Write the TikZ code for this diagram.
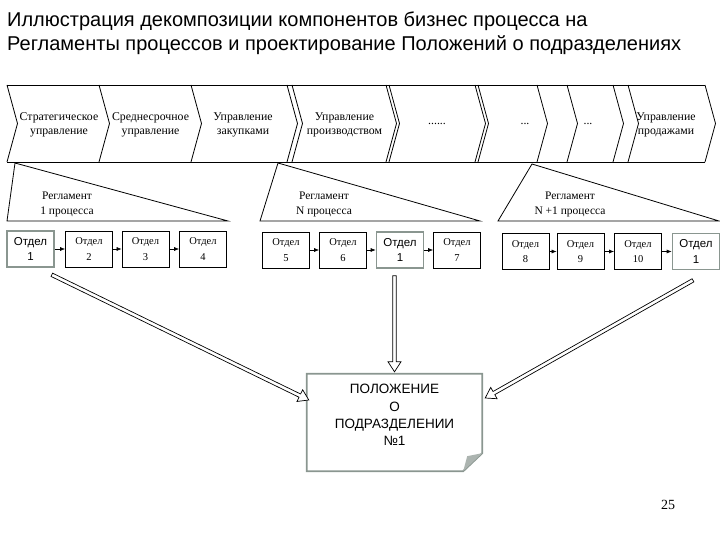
\documentclass[tikz,border=0pt]{standalone}
\usepackage{fontspec}
\setmainfont{Liberation Serif}
\setsansfont{Liberation Sans}
\usetikzlibrary{calc,arrows.meta}
\definecolor{gborder}{RGB}{138,150,144}
\definecolor{gfold}{RGB}{172,180,176}
\tikzset{
  edgeline/.style={line width=0.8pt},
  dept/.style={draw, line width=0.7pt, minimum width=47pt, minimum height=36pt, inner sep=0pt, align=center, font=\fontsize{10.5}{15.5}\selectfont},
  deptg/.style={dept, draw=gborder, line width=1.6pt, font=\sffamily\fontsize{11.5}{15.5}\selectfont},
  sarrow/.style={-{Latex[length=5pt,width=4pt]}, line width=0.6pt},
  bigarrow/.style={draw, line width=0.7pt, fill=white},
  chevtext/.style={align=center, inner sep=0pt, font=\fontsize{11.8}{14.5}\selectfont},
  regtext/.style={align=center, inner sep=0pt, font=\fontsize{11.5}{14.5}\selectfont},
}
\newcommand\hollowarrow[2]{%
  \coordinate (ha-h) at ($(#2)!10pt!(#1)$);
  \draw[bigarrow] ($(#1)!1.8pt!90:(#2)$) -- ($(ha-h)!1.8pt!90:(#2)$) -- ($(ha-h)!6.5pt!90:(#2)$) -- (#2)
    -- ($(ha-h)!6.5pt!-90:(#2)$) -- ($(ha-h)!1.8pt!-90:(#2)$) -- ($(#1)!1.8pt!-90:(#2)$) -- cycle;}
\newcommand\chevedge[1]{\draw[edgeline] (#1,85) -- ({#1+10.5},123.5) -- (#1,162);}
\begin{document}
\begin{tikzpicture}[x=1pt,y=-1pt]
\useasboundingbox (0,0) rectangle (720,540);

% title
\node[anchor=north west, align=left, inner sep=0pt, font=\sffamily\fontsize{20}{23.5}\selectfont] (title) at (7,12)
  {Иллюстрация декомпозиции компонентов бизнес процесса на\\Регламенты процессов и проектирование Положений о подразделениях};

% chevron strip
\draw[edgeline] (7,85) -- (705,85);
\draw[edgeline] (7,162) -- (705,162);
\foreach \e in {7,99,191,287,292,386,389,475,478,537,567,613,628,705} {\chevedge{\e}}

\node[chevtext] (c1) at (59,125) {Стратегическое\\управление};
\node[chevtext] (c2) at (150.5,125) {Среднесрочное\\управление};
\node[chevtext] (c3) at (243,125) {Управление\\закупками};
\node[chevtext] (c4) at (344.5,125) {Управление\\производством};
\node[chevtext] (c5) at (437,124) {......};
\node[chevtext] (c6) at (525,124) {...};
\node[chevtext] (c8) at (588,124) {...};
\node[chevtext] (c9) at (666,125) {Управление\\продажами};

% triangles
\draw[edgeline] (15,163) -- (7,221) -- (228,221) -- cycle;
\draw[edgeline] (278,163) -- (260,221) -- (480,221) -- cycle;
\draw[edgeline] (532,164) -- (498,221) -- (719,221) -- cycle;
\node[regtext] (r1) at (67,204.5) {Регламент\\1 процесса};
\node[regtext] (r2) at (324,204.5) {Регламент\\N процесса};
\node[regtext] (r3) at (570,204.5) {Регламент\\N +1 процесса};

% department boxes
\node[deptg] (b1) at (30.5,249) {Отдел\\1};
\node[dept] (b2) at (89,249) {Отдел\\2};
\node[dept] (b3) at (145.5,249) {Отдел\\3};
\node[dept] (b4) at (203,249) {Отдел\\4};
\draw[sarrow] (b1) -- (b2);
\draw[sarrow] (b2) -- (b3);
\draw[sarrow] (b3) -- (b4);

\node[dept] (b5) at (286,250) {Отдел\\5};
\node[dept] (b6) at (343,250) {Отдел\\6};
\node[deptg] (b6a) at (400,250) {Отдел\\1};
\node[dept] (b7) at (457,250) {Отдел\\7};
\draw[sarrow] (b5) -- (b6);
\draw[sarrow] (b6) -- (b6a);
\draw[sarrow] (b6a) -- (b7);

\node[dept] (b8) at (525.5,251.5) {Отдел\\8};
\node[dept] (b9) at (580.5,251.5) {Отдел\\9};
\node[dept] (b10) at (638,251.5) {Отдел\\10};
\node[deptg] (b11) at (696,251.5) {Отдел\\1};
\draw[sarrow] (b8) -- (b9);
\draw[sarrow] (b9) -- (b10);
\draw[sarrow] (b10) -- (b11);

% regulation document
\node[minimum width=175pt, minimum height=97pt, inner sep=0pt] (pol) at (394.5,422.5) {};
\draw[gborder, line width=1.8pt] (pol.north west) -- (pol.north east) -- ($(pol.south east)+(0,-18)$)
  -- ($(pol.south east)+(-19,0)$) -- (pol.south west) -- cycle;
\fill[gfold] ($(pol.south east)+(0,-18)$) -- ($(pol.south east)+(-19,0)$) -- ($(pol.south east)+(-15,-15)$) -- cycle;
\node[align=center, inner sep=0pt, font=\sffamily\fontsize{13.5}{17.4}\selectfont] (poltext) at ($(pol.center)+(0,-7.5)$)
  {ПОЛОЖЕНИЕ\\О\\ПОДРАЗДЕЛЕНИИ\\№1};

% big hollow arrows
\coordinate (s1) at ($(b1.south east)+(-3,7)$);
\coordinate (t1) at ($(pol.west)+(2,-22.5)$);
\coordinate (s2) at ($(pol.north |- b6a.south)+(0,7)$);
\coordinate (t2) at ($(pol.north)+(0,-2)$);
\coordinate (s3) at ($(b11.south)+(-3,10)$);
\coordinate (t3) at ($(pol.east)+(3,-24.5)$);
\hollowarrow{s1}{t1}
\hollowarrow{s2}{t2}
\hollowarrow{s3}{t3}

% page number
\node[font=\fontsize{14}{16}\selectfont] (pg) at (668,505) {25};
\end{tikzpicture}
\end{document}
